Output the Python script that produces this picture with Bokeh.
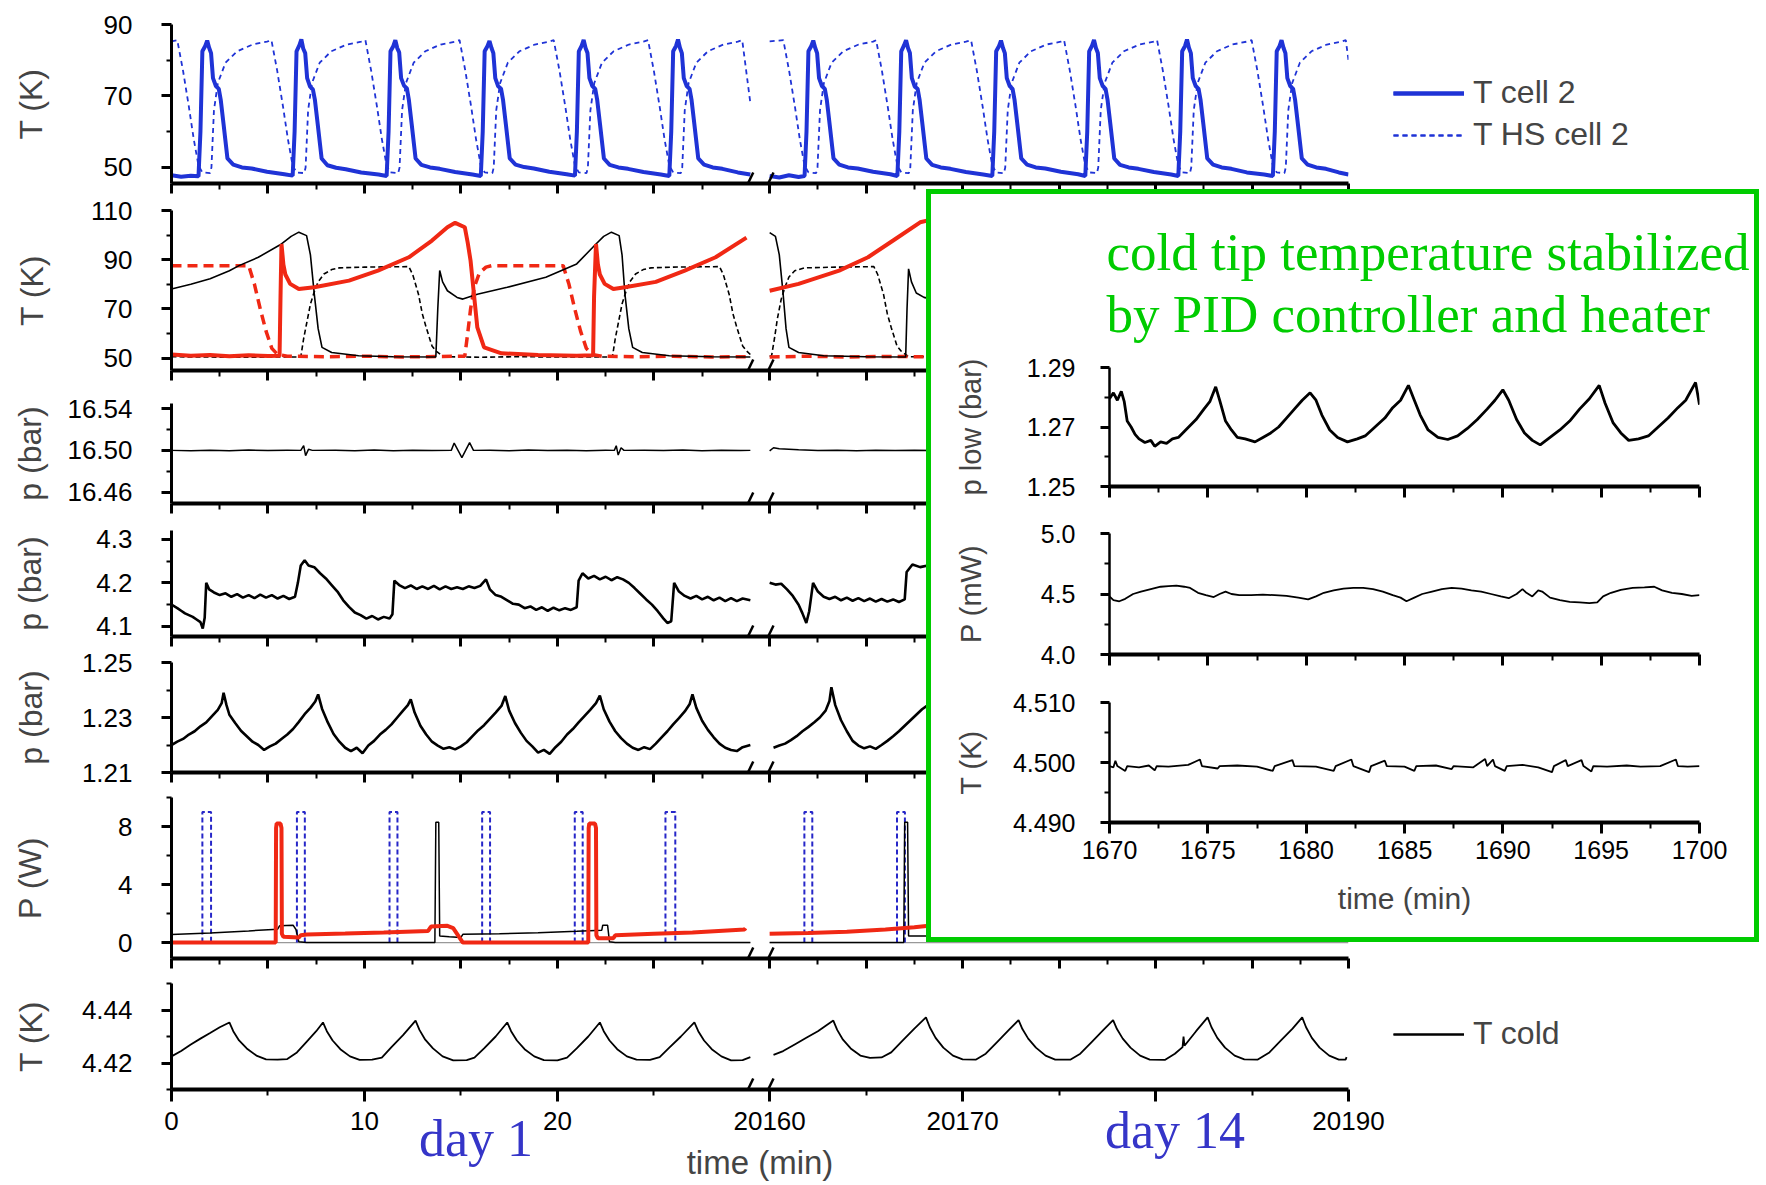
import numpy as np
from bokeh.plotting import figure
from bokeh.layouts import column
from bokeh.models import (Range1d, FixedTicker, PrintfTickFormatter, Legend,
                          LegendItem, Arrow, GridBox, Column, Div)
from bokeh.embed import file_html
from bokeh.resources import INLINE

# ============================ DATA ============================
# broken time axis: 0-30 min (day 1) | 20160-20190 min (day 14)
DAY14_START = 20160.0
DAY14_AXIS_POS = 31.0

# --- panel 1: cell 2 temperatures (K)
t_cell2_day1 = [
 (0.00,47.8),(0.50,47.4),(1.00,47.7),(1.40,47.5),
 (1.50,60.0),(1.60,82.5),(1.75,84.0),(1.85,85.5),(1.95,83.5),(2.05,82.0),(2.15,75.0),(2.30,72.8),(2.45,72.0),(2.55,69.0),(2.70,62.0),(2.90,52.5),(3.20,50.8),(3.65,50.0),(4.15,49.7),(4.95,48.8),(5.85,48.1),(6.28,47.7),
 (6.38,60.0),(6.48,82.5),(6.63,84.2),(6.73,85.8),(6.83,83.2),(6.93,82.0),(7.03,75.0),(7.18,72.6),(7.33,71.8),(7.43,69.0),(7.58,62.0),(7.78,52.5),(8.08,50.6),(8.53,49.9),(9.03,49.5),(9.83,48.6),(10.73,48.0),(11.15,47.6),
 (11.25,60.0),(11.35,82.5),(11.50,84.0),(11.60,85.6),(11.70,83.4),(11.80,82.2),(11.90,75.0),(12.05,72.9),(12.20,72.1),(12.30,69.0),(12.45,62.0),(12.65,52.5),(12.95,50.7),(13.40,50.0),(13.90,49.6),(14.70,48.7),(15.60,48.0),(16.03,47.6),
 (16.13,60.0),(16.23,82.5),(16.38,84.0),(16.48,85.4),(16.58,83.5),(16.68,82.0),(16.78,75.0),(16.93,72.7),(17.08,72.0),(17.18,69.0),(17.33,62.0),(17.53,52.5),(17.83,50.8),(18.28,50.1),(18.78,49.7),(19.58,48.8),(20.48,48.1),(20.91,47.7),
 (21.01,60.0),(21.11,82.5),(21.26,84.1),(21.36,85.7),(21.46,83.4),(21.56,82.0),(21.66,75.0),(21.81,72.8),(21.96,72.0),(22.06,69.0),(22.21,62.0),(22.41,52.5),(22.71,50.7),(23.16,50.0),(23.66,49.6),(24.46,48.7),(25.36,48.0),(25.80,47.6),
 (25.90,60.0),(26.00,82.5),(26.15,84.0),(26.25,85.8),(26.35,83.5),(26.45,82.0),(26.55,75.0),(26.70,72.8),(26.85,72.0),(26.95,69.0),(27.10,62.0),(27.30,52.5),(27.60,50.8),(28.05,50.0),(28.55,49.6),(29.35,48.6),(30.00,48.0)]
t_cell2_day14 = [
 (20160.00,47.6),(20160.50,47.2),(20161.00,47.8),(20161.50,47.3),(20161.81,47.6),
 (20161.91,60.0),(20162.01,82.5),(20162.16,84.0),(20162.26,85.5),(20162.36,83.5),(20162.46,82.0),(20162.56,75.0),(20162.71,72.8),(20162.86,72.0),(20162.96,69.0),(20163.11,62.0),(20163.31,52.5),(20163.61,50.8),(20164.06,50.0),(20164.56,49.7),(20165.36,48.8),(20166.26,48.1),(20166.62,47.6),
 (20166.72,60.0),(20166.82,82.5),(20166.97,84.2),(20167.07,85.6),(20167.17,83.4),(20167.27,82.0),(20167.37,75.0),(20167.52,72.6),(20167.67,72.0),(20167.77,69.0),(20167.92,62.0),(20168.12,52.5),(20168.42,50.7),(20168.87,50.0),(20169.37,49.6),(20170.17,48.7),(20171.07,48.0),(20171.54,47.6),
 (20171.64,60.0),(20171.74,82.5),(20171.89,84.0),(20171.99,85.5),(20172.09,83.5),(20172.19,82.0),(20172.29,75.0),(20172.44,72.8),(20172.59,72.0),(20172.69,69.0),(20172.84,62.0),(20173.04,52.5),(20173.34,50.8),(20173.79,50.0),(20174.29,49.7),(20175.09,48.8),(20175.99,48.1),(20176.36,47.6),
 (20176.46,60.0),(20176.56,82.5),(20176.71,84.1),(20176.81,85.7),(20176.91,83.4),(20177.01,82.0),(20177.11,75.0),(20177.26,72.8),(20177.41,72.0),(20177.51,69.0),(20177.66,62.0),(20177.86,52.5),(20178.16,50.7),(20178.61,50.0),(20179.11,49.6),(20179.91,48.7),(20180.81,48.0),(20181.18,47.6),
 (20181.28,60.0),(20181.38,82.5),(20181.53,84.0),(20181.63,85.8),(20181.73,83.5),(20181.83,82.0),(20181.93,75.0),(20182.08,72.8),(20182.23,72.0),(20182.33,69.0),(20182.48,62.0),(20182.68,52.5),(20182.98,50.8),(20183.43,50.0),(20183.93,49.6),(20184.73,48.6),(20185.63,48.0),(20186.08,47.6),
 (20186.18,60.0),(20186.28,82.5),(20186.43,84.0),(20186.53,85.6),(20186.63,83.5),(20186.73,82.0),(20186.83,75.0),(20186.98,72.8),(20187.13,72.0),(20187.23,69.0),(20187.38,62.0),(20187.58,52.5),(20187.88,50.8),(20188.33,50.0),(20188.83,49.6),(20189.50,48.6),(20190.00,48.0)]
t_hs_cell2_day1 = [
 (0.00,85.3),(0.30,85.6),(0.60,77.0),(0.90,67.0),(1.15,58.0),(1.40,50.5),(1.60,48.6),(2.00,48.4),(2.07,50.0),(2.20,66.0),(2.40,73.6),(2.80,79.3),(3.40,82.5),(4.20,84.4),(4.95,85.2),(5.18,85.6),
 (5.48,77.0),(5.78,67.0),(6.03,58.0),(6.28,50.5),(6.48,48.6),(6.88,48.4),(6.95,50.0),(7.08,66.0),(7.28,73.6),(7.68,79.3),(8.28,82.5),(9.08,84.4),(9.83,85.2),(10.05,85.6),
 (10.35,77.0),(10.65,67.0),(10.90,58.0),(11.15,50.5),(11.35,48.6),(11.75,48.4),(11.82,50.0),(11.95,66.0),(12.15,73.6),(12.55,79.3),(13.15,82.5),(13.95,84.4),(14.70,85.2),(14.93,85.6),
 (15.23,77.0),(15.53,67.0),(15.78,58.0),(16.03,50.5),(16.23,48.6),(16.63,48.4),(16.70,50.0),(16.83,66.0),(17.03,73.6),(17.43,79.3),(18.03,82.5),(18.83,84.4),(19.58,85.2),(19.81,85.6),
 (20.11,77.0),(20.41,67.0),(20.66,58.0),(20.91,50.5),(21.11,48.6),(21.51,48.4),(21.58,50.0),(21.71,66.0),(21.91,73.6),(22.31,79.3),(22.91,82.5),(23.71,84.4),(24.46,85.2),(24.70,85.6),
 (25.00,77.0),(25.30,67.0),(25.55,58.0),(25.80,50.5),(26.00,48.6),(26.40,48.4),(26.47,50.0),(26.60,66.0),(26.80,73.6),(27.20,79.3),(27.80,82.5),(28.60,84.4),(29.35,85.2),(29.58,85.6),(30.00,68.0)]
t_hs_cell2_day14 = [
 (20160.00,85.3),(20160.71,85.6),
 (20161.01,77.0),(20161.31,67.0),(20161.56,58.0),(20161.81,50.5),(20162.01,48.6),(20162.41,48.4),(20162.48,50.0),(20162.61,66.0),(20162.81,73.6),(20163.21,79.3),(20163.81,82.5),(20164.61,84.4),(20165.36,85.2),(20165.52,85.6),
 (20165.82,77.0),(20166.12,67.0),(20166.37,58.0),(20166.62,50.5),(20166.82,48.6),(20167.22,48.4),(20167.29,50.0),(20167.42,66.0),(20167.62,73.6),(20168.02,79.3),(20168.62,82.5),(20169.42,84.4),(20170.17,85.2),(20170.44,85.6),
 (20170.74,77.0),(20171.04,67.0),(20171.29,58.0),(20171.54,50.5),(20171.74,48.6),(20172.14,48.4),(20172.21,50.0),(20172.34,66.0),(20172.54,73.6),(20172.94,79.3),(20173.54,82.5),(20174.34,84.4),(20175.09,85.2),(20175.26,85.6),
 (20175.56,77.0),(20175.86,67.0),(20176.11,58.0),(20176.36,50.5),(20176.56,48.6),(20176.96,48.4),(20177.03,50.0),(20177.16,66.0),(20177.36,73.6),(20177.76,79.3),(20178.36,82.5),(20179.16,84.4),(20179.91,85.2),(20180.08,85.6),
 (20180.38,77.0),(20180.68,67.0),(20180.93,58.0),(20181.18,50.5),(20181.38,48.6),(20181.78,48.4),(20181.85,50.0),(20181.98,66.0),(20182.18,73.6),(20182.58,79.3),(20183.18,82.5),(20183.98,84.4),(20184.73,85.2),(20184.98,85.6),
 (20185.28,77.0),(20185.58,67.0),(20185.83,58.0),(20186.08,50.5),(20186.28,48.6),(20186.68,48.4),(20186.75,50.0),(20186.88,66.0),(20187.08,73.6),(20187.48,79.3),(20188.08,82.5),(20188.88,84.4),(20189.63,85.2),(20189.86,85.6),(20190.00,80.0)]

# --- panel 2: cell 1 / cell 3 and heat switch temperatures (K)
t_cell1_day1 = [(0.0,78.1),(1.0,80.0),(2.0,82.3),(3.0,85.5),(3.5,87.6),(4.5,91.0),(5.7,96.4),(6.2,99.5),(6.6,101.2),(7.0,99.8),(7.2,92.0),(7.4,76.0),(7.6,62.0),(7.8,54.4),(8.3,52.3),(9.7,51.0),(11.5,50.6),(13.7,50.5),(13.8,70.0),(13.9,85.6),(14.05,81.0),(14.3,77.4),(14.8,74.7),(15.1,74.0),(15.85,76.0),(17.4,78.8),(19.4,82.9),(21.0,88.3),(22.0,96.4),(22.4,99.5),(22.8,101.2),(23.2,99.8),(23.35,92.0),(23.5,76.0),(23.7,62.0),(23.9,54.4),(24.4,52.3),(25.8,51.0),(28.0,50.6),(30.0,50.5)]
t_cell1_day14 = [(20160.0,101.0),(20160.3,99.5),(20160.5,92.0),(20160.7,76.0),(20160.85,62.0),(20161.0,54.4),(20161.5,52.3),(20162.8,51.0),(20165.0,50.6),(20167.05,50.5),(20167.12,70.0),(20167.2,86.3),(20167.35,81.0),(20167.6,76.5),(20168.0,74.7),(20168.4,74.0),(20169.2,76.0)]
t_cell3_day1 = [(0.0,51.5),(1.0,51.0),(2.0,51.3),(3.0,50.8),(4.0,51.2),(5.0,50.9),(5.6,51.0),(5.65,75.0),(5.7,96.4),(5.8,88.0),(5.9,84.0),(6.15,80.2),(6.6,78.1),(7.4,78.8),(9.2,81.5),(10.7,85.6),(12.3,91.0),(13.5,97.8),(14.3,103.2),(14.7,105.0),(15.2,103.2),(15.35,97.0),(15.5,89.6),(15.7,74.0),(15.85,62.5),(16.2,54.4),(17.1,52.0),(19.0,51.3),(21.0,51.0),(21.85,51.2),(21.9,75.0),(22.0,96.4),(22.1,88.0),(22.2,84.0),(22.45,80.2),(22.9,78.1),(23.5,78.8),(25.1,81.0),(26.6,85.6),(28.2,91.0),(29.8,99.0)]
t_cell3_day14 = [(20160.0,77.4),(20161.5,80.2),(20163.6,85.6),(20165.1,91.0),(20166.4,97.8),(20167.8,105.2),(20168.5,106.5)]
t_hs_cell3_day1 = [(0.0,87.6),(4.0,87.6),(4.3,80.0),(4.6,70.0),(4.9,61.0),(5.2,54.0),(5.5,51.5),(6.0,50.8),(8.0,50.6),(10.0,50.8),(12.0,50.5),(14.0,50.7),(15.2,50.8),(15.35,60.0),(15.5,70.0),(15.7,79.0),(15.95,84.5),(16.3,87.0),(16.6,87.6),(20.3,87.6),(20.6,80.0),(20.9,70.0),(21.2,61.0),(21.5,54.0),(21.8,51.5),(22.3,50.8),(24.0,50.6),(26.0,50.8),(28.0,50.5),(30.0,50.6)]
t_hs_cell3_day14 = [(20160.0,50.5),(20162.0,50.8),(20164.0,50.5),(20166.0,50.7),(20168.0,50.6),(20169.0,50.6)]
t_hs_cell1_day1 = [(0.0,50.6),(3.0,50.4),(6.7,50.5),(6.85,58.0),(7.0,64.0),(7.2,72.0),(7.4,77.0),(7.6,81.0),(7.9,84.2),(8.3,86.0),(8.7,86.7),(10.0,87.0),(12.3,87.2),(12.5,84.0),(12.8,76.0),(13.0,68.0),(13.2,62.5),(13.5,55.0),(13.7,53.0),(14.1,50.6),(16.0,50.4),(18.0,50.6),(20.0,50.5),(22.85,50.5),(23.0,58.0),(23.15,64.0),(23.35,72.0),(23.55,77.0),(23.75,81.0),(24.05,84.2),(24.45,86.0),(24.85,86.7),(26.0,87.0),(28.4,87.2),(28.6,84.0),(28.9,76.0),(29.1,68.0),(29.3,62.5),(29.6,55.0),(29.8,53.0),(30.0,51.5)]
t_hs_cell1_day14 = [(20160.0,50.8),(20160.1,51.0),(20160.25,58.0),(20160.4,66.0),(20160.6,74.0),(20160.8,79.0),(20161.0,83.0),(20161.3,85.5),(20161.8,86.7),(20163.5,87.0),(20165.4,87.2),(20165.6,84.0),(20165.9,76.0),(20166.1,68.0),(20166.3,62.5),(20166.6,55.0),(20166.8,53.0),(20167.2,50.6),(20169.0,50.5)]

# --- panel 3: high pressure (bar)
p_high_day1 = [(0.0,16.5000),(1.0,16.4997),(2.0,16.5002),(3.0,16.4996),(4.0,16.5003),(5.0,16.4998),(6.0,16.5002),(6.7,16.5000),(6.85,16.5045),(6.95,16.4950),(7.1,16.5010),(7.3,16.5000),(8.5,16.5002),(9.5,16.4997),(10.5,16.5003),(11.5,16.4996),(12.5,16.5002),(13.5,16.4998),(14.5,16.5000),(14.65,16.5070),(15.05,16.4930),(15.45,16.5075),(15.65,16.5000),(16.5,16.5002),(17.5,16.4997),(18.5,16.5003),(19.5,16.4998),(20.5,16.5002),(21.5,16.4997),(22.5,16.5002),(22.95,16.5000),(23.05,16.5045),(23.15,16.4955),(23.3,16.5025),(23.45,16.5000),(24.5,16.5002),(25.5,16.4998),(26.5,16.5003),(27.5,16.4997),(28.5,16.5002),(29.5,16.4998),(30.0,16.5000)]
p_high_day14 = [(20160.0,16.4995),(20160.2,16.5025),(20160.5,16.5015),(20161.5,16.5005),(20162.5,16.4998),(20163.5,16.5002),(20164.5,16.4997),(20165.5,16.5002),(20166.5,16.4998),(20167.5,16.5002),(20168.5,16.4998),(20169.0,16.5000)]

# --- panel 4: intermediate pressure (bar)
p_mid_day1 = [(0.0,4.150),(0.3,4.142),(0.5,4.136),(0.7,4.130),(0.9,4.126),(1.1,4.122),(1.3,4.116),(1.5,4.110),(1.62,4.095),(1.72,4.120),(1.80,4.200),(1.95,4.185),(2.2,4.178),(2.5,4.172),(2.8,4.176),(3.1,4.168),(3.4,4.174),(3.7,4.166),(4.0,4.172),(4.3,4.165),(4.6,4.173),(4.9,4.166),(5.2,4.172),(5.5,4.164),(5.8,4.170),(6.1,4.163),(6.4,4.168),(6.55,4.200),(6.7,4.240),(6.9,4.252),(7.1,4.240),(7.4,4.236),(7.7,4.222),(8.0,4.210),(8.3,4.195),(8.6,4.180),(8.9,4.160),(9.2,4.145),(9.5,4.132),(9.8,4.126),(10.1,4.118),(10.4,4.124),(10.7,4.116),(11.0,4.122),(11.3,4.118),(11.45,4.128),(11.55,4.205),(11.8,4.195),(12.1,4.188),(12.4,4.194),(12.7,4.186),(13.0,4.192),(13.3,4.186),(13.6,4.193),(13.9,4.185),(14.2,4.192),(14.5,4.186),(14.8,4.190),(15.1,4.186),(15.4,4.192),(15.7,4.188),(16.0,4.193),(16.3,4.208),(16.5,4.185),(16.8,4.172),(17.1,4.168),(17.4,4.160),(17.7,4.152),(18.0,4.150),(18.3,4.142),(18.6,4.146),(18.9,4.138),(19.2,4.144),(19.5,4.136),(19.8,4.143),(20.1,4.137),(20.4,4.142),(20.7,4.138),(21.0,4.144),(21.1,4.205),(21.3,4.222),(21.6,4.210),(21.9,4.216),(22.2,4.208),(22.5,4.214),(22.8,4.206),(23.1,4.213),(23.4,4.208),(23.7,4.200),(24.0,4.188),(24.3,4.175),(24.6,4.162),(24.9,4.150),(25.2,4.135),(25.5,4.118),(25.7,4.108),(25.9,4.112),(26.05,4.200),(26.3,4.180),(26.6,4.170),(26.9,4.164),(27.2,4.170),(27.5,4.162),(27.8,4.168),(28.1,4.160),(28.4,4.166),(28.7,4.158),(29.0,4.165),(29.3,4.158),(29.6,4.164),(30.0,4.160)]
p_mid_day14 = [(20160.0,4.200),(20160.3,4.196),(20160.6,4.198),(20160.9,4.185),(20161.2,4.170),(20161.5,4.150),(20161.7,4.130),(20161.9,4.108),(20162.05,4.135),(20162.25,4.200),(20162.5,4.180),(20162.8,4.168),(20163.1,4.163),(20163.4,4.168),(20163.7,4.160),(20164.0,4.166),(20164.3,4.159),(20164.6,4.165),(20164.9,4.158),(20165.2,4.164),(20165.5,4.157),(20165.8,4.163),(20166.1,4.157),(20166.4,4.162),(20166.7,4.156),(20167.0,4.162),(20167.1,4.225),(20167.4,4.242),(20167.8,4.236),(20168.2,4.240),(20168.6,4.234)]

# --- panel 5: low pressure (bar)
p_low_day1 = [(0.0,1.2200),(0.3,1.2212),(0.6,1.2222),(0.9,1.2238),(1.2,1.2250),(1.5,1.2268),(1.8,1.2282),(2.1,1.2305),(2.4,1.2328),(2.6,1.2352),(2.7,1.2390),(2.85,1.2345),(3.0,1.2310),(3.3,1.2280),(3.6,1.2252),(3.9,1.2232),(4.2,1.2212),(4.5,1.2200),(4.8,1.2182),(5.1,1.2195),(5.4,1.2205),(5.7,1.2222),(6.0,1.2238),(6.3,1.2258),(6.6,1.2284),(6.9,1.2312),(7.2,1.2335),(7.45,1.2358),(7.6,1.2384),(7.8,1.2332),(8.1,1.2282),(8.4,1.2240),(8.7,1.2212),(9.0,1.2190),(9.3,1.2178),(9.6,1.2190),(9.9,1.2170),(10.2,1.2198),(10.5,1.2215),(10.8,1.2238),(11.1,1.2255),(11.4,1.2275),(11.7,1.2300),(12.0,1.2325),(12.25,1.2345),(12.4,1.2366),(12.6,1.2318),(12.9,1.2270),(13.2,1.2238),(13.5,1.2212),(13.8,1.2198),(14.1,1.2186),(14.4,1.2192),(14.7,1.2184),(15.0,1.2195),(15.3,1.2210),(15.6,1.2232),(15.9,1.2254),(16.2,1.2272),(16.5,1.2295),(16.8,1.2318),(17.1,1.2342),(17.3,1.2378),(17.5,1.2325),(17.8,1.2280),(18.1,1.2245),(18.4,1.2215),(18.7,1.2195),(19.0,1.2172),(19.3,1.2182),(19.6,1.2168),(19.9,1.2192),(20.2,1.2212),(20.5,1.2238),(20.8,1.2258),(21.1,1.2282),(21.4,1.2305),(21.7,1.2328),(22.0,1.2352),(22.2,1.2380),(22.4,1.2330),(22.7,1.2285),(23.0,1.2250),(23.3,1.2225),(23.6,1.2205),(23.9,1.2190),(24.2,1.2182),(24.5,1.2192),(24.8,1.2185),(25.1,1.2205),(25.4,1.2228),(25.7,1.2250),(26.0,1.2275),(26.3,1.2298),(26.6,1.2322),(26.85,1.2348),(27.0,1.2384),(27.2,1.2335),(27.5,1.2288),(27.8,1.2255),(28.1,1.2228),(28.4,1.2205),(28.7,1.2190),(29.0,1.2182),(29.3,1.2178),(29.6,1.2192),(30.0,1.2200)]
p_low_day14 = [(20160.2,1.2190),(20160.5,1.2198),(20160.8,1.2205),(20161.1,1.2218),(20161.4,1.2232),(20161.7,1.2250),(20162.0,1.2265),(20162.3,1.2282),(20162.6,1.2300),(20162.9,1.2325),(20163.1,1.2360),(20163.2,1.2410),(20163.4,1.2345),(20163.7,1.2290),(20164.0,1.2250),(20164.3,1.2215),(20164.6,1.2198),(20164.9,1.2188),(20165.2,1.2195),(20165.5,1.2186),(20165.8,1.2200),(20166.1,1.2215),(20166.4,1.2232),(20166.7,1.2250),(20167.0,1.2270),(20167.3,1.2290),(20167.6,1.2310),(20167.9,1.2330),(20168.2,1.2345),(20168.6,1.2365),(20169.0,1.2380)]

# --- panel 6: heater powers (W)
heater_c2_on = [1.60, 6.50, 11.30, 16.10, 20.90, 25.60, 20161.80, 20166.60]
heater_c2_off = [2.05, 6.91, 11.71, 16.51, 21.31, 26.11, 20162.21, 20167.01]
heater_c2_power = 9.0
p_red_day1 = [(0.0,0.0),(5.40,0.0),(5.42,7.9),(5.45,8.2),(5.65,8.2),(5.70,7.9),(5.72,0.6),(5.80,0.4),(6.60,0.35),(6.70,0.50),(7.0,0.55),(9.0,0.62),(11.0,0.70),(13.3,0.80),(13.45,1.10),(14.3,1.15),(14.6,1.0),(15.1,0.0),(21.60,0.0),(21.62,7.9),(21.65,8.2),(21.95,8.2),(22.00,7.9),(22.02,0.5),(22.10,0.3),(22.9,0.3),(23.0,0.5),(25.0,0.6),(27.0,0.7),(29.7,0.9),(29.75,1.0)]
p_red_day14 = [(20160.0,0.6),(20162.0,0.65),(20164.0,0.75),(20166.0,0.9),(20167.5,1.05),(20168.5,1.2)]
p_black_day1 = [(0.0,0.55),(2.0,0.65),(4.0,0.8),(5.5,0.92),(5.6,1.15),(6.3,1.2),(6.45,0.9),(6.6,0.05),(7.0,0.0),(13.65,0.0),(13.7,8.3),(13.85,8.3),(13.9,0.45),(14.4,0.4),(15.0,0.35),(15.1,0.57),(17.0,0.6),(19.0,0.68),(21.0,0.78),(22.3,0.85),(22.35,1.2),(22.6,1.2),(22.7,0.05),(23.0,0.0),(30.0,0.0)]
p_black_day14 = [(20160.0,0.0),(20166.95,0.0),(20167.0,8.3),(20167.15,8.3),(20167.2,0.45),(20168.5,0.45)]
p_zero_day1 = [(0.0,0.0),(30.0,0.0)]
p_zero_day14 = [(20160.0,0.0),(20190.0,0.0)]

# --- panel 7: cold tip temperature (K)
t_cold_day1 = [(0.0,4.4225),(0.5,4.4245),(1.0,4.4270),(1.5,4.4292),(2.0,4.4313),(2.5,4.4335),(3.0,4.4353),(3.2,4.4320),(3.5,4.4285),(3.9,4.4255),(4.4,4.4228),(4.9,4.4214),(5.5,4.4213),(6.0,4.4215),(6.5,4.4240),(7.0,4.4280),(7.5,4.4320),(7.85,4.4353),(8.05,4.4320),(8.35,4.4285),(8.75,4.4252),(9.25,4.4225),(9.75,4.4212),(10.4,4.4213),(10.9,4.4220),(11.4,4.4260),(12.0,4.4305),(12.65,4.4360),(12.85,4.4325),(13.15,4.4288),(13.55,4.4255),(14.05,4.4225),(14.6,4.4210),(15.3,4.4211),(15.7,4.4220),(16.2,4.4255),(16.8,4.4300),(17.4,4.4353),(17.6,4.4320),(17.9,4.4285),(18.3,4.4252),(18.8,4.4225),(19.3,4.4211),(20.0,4.4210),(20.5,4.4220),(21.0,4.4255),(21.6,4.4300),(22.2,4.4353),(22.4,4.4320),(22.7,4.4285),(23.1,4.4252),(23.6,4.4225),(24.1,4.4213),(24.8,4.4212),(25.3,4.4222),(25.8,4.4258),(26.4,4.4300),(27.1,4.4353),(27.3,4.4320),(27.6,4.4285),(28.0,4.4252),(28.5,4.4225),(29.0,4.4210),(29.6,4.4211),(30.0,4.4222)]
t_cold_day14 = [(20160.2,4.4231),(20160.7,4.4245),(20161.3,4.4270),(20161.9,4.4295),(20162.5,4.4320),(20163.0,4.4345),(20163.3,4.4360),(20163.5,4.4325),(20163.8,4.4288),(20164.2,4.4255),(20164.7,4.4228),(20165.2,4.4219),(20165.8,4.4221),(20166.3,4.4240),(20166.9,4.4285),(20167.5,4.4330),(20168.1,4.4372),(20168.3,4.4335),(20168.6,4.4295),(20169.0,4.4258),(20169.5,4.4228),(20170.0,4.4214),(20170.7,4.4213),(20171.2,4.4235),(20171.8,4.4280),(20172.4,4.4325),(20172.9,4.4362),(20173.1,4.4328),(20173.4,4.4292),(20173.8,4.4258),(20174.3,4.4228),(20174.8,4.4213),(20175.6,4.4213),(20176.1,4.4235),(20176.7,4.4280),(20177.3,4.4325),(20177.8,4.4362),(20178.0,4.4328),(20178.3,4.4292),(20178.7,4.4258),(20179.2,4.4228),(20179.7,4.4213),(20180.5,4.4212),(20181.0,4.4235),(20181.4,4.4260),(20181.45,4.4300),(20181.5,4.4265),(20182.1,4.4320),(20182.7,4.4372),(20182.9,4.4335),(20183.2,4.4295),(20183.6,4.4258),(20184.1,4.4228),(20184.6,4.4214),(20185.3,4.4213),(20185.9,4.4240),(20186.5,4.4285),(20187.1,4.4330),(20187.6,4.4372),(20187.8,4.4335),(20188.1,4.4295),(20188.5,4.4258),(20189.0,4.4228),(20189.5,4.4213),(20189.85,4.4213),(20189.9,4.4222)]

# --- inset (PID stabilised cold tip), time 1670-1700 min
inset_p_low = [(1670.0,1.2795),(1670.2,1.2815),(1670.4,1.2790),(1670.6,1.2820),(1670.75,1.2785),(1670.9,1.2720),(1671.1,1.2700),(1671.3,1.2675),(1671.5,1.2660),(1671.8,1.2648),(1672.1,1.2655),(1672.3,1.2635),(1672.6,1.2650),(1672.9,1.2645),(1673.2,1.2660),(1673.5,1.2665),(1673.8,1.2685),(1674.1,1.2705),(1674.4,1.2725),(1674.8,1.2760),(1675.1,1.2785),(1675.4,1.2835),(1675.6,1.2790),(1675.9,1.2720),(1676.2,1.2690),(1676.5,1.2665),(1676.9,1.2660),(1677.4,1.2650),(1677.8,1.2665),(1678.2,1.2680),(1678.6,1.2700),(1679.0,1.2730),(1679.4,1.2760),(1679.8,1.2790),(1680.2,1.2815),(1680.5,1.2790),(1680.8,1.2740),(1681.2,1.2690),(1681.6,1.2665),(1682.1,1.2650),(1682.6,1.2660),(1683.0,1.2670),(1683.5,1.2700),(1684.0,1.2730),(1684.4,1.2765),(1684.8,1.2790),(1685.2,1.2840),(1685.5,1.2790),(1685.8,1.2740),(1686.2,1.2690),(1686.7,1.2665),(1687.2,1.2658),(1687.7,1.2670),(1688.2,1.2695),(1688.7,1.2725),(1689.2,1.2760),(1689.6,1.2790),(1690.0,1.2825),(1690.3,1.2790),(1690.7,1.2725),(1691.1,1.2680),(1691.5,1.2655),(1691.9,1.2640),(1692.4,1.2665),(1692.9,1.2690),(1693.4,1.2720),(1693.9,1.2760),(1694.4,1.2795),(1694.9,1.2840),(1695.2,1.2780),(1695.6,1.2715),(1696.0,1.2680),(1696.4,1.2655),(1696.9,1.2660),(1697.4,1.2670),(1697.9,1.2700),(1698.4,1.2730),(1698.9,1.2765),(1699.3,1.2790),(1699.8,1.2850),(1700.0,1.2775)]
inset_p_heater = [(1670.0,4.48),(1670.2,4.45),(1670.5,4.44),(1670.8,4.46),(1671.2,4.50),(1671.6,4.52),(1672.1,4.54),(1672.6,4.56),(1673.0,4.565),(1673.4,4.57),(1673.8,4.56),(1674.1,4.55),(1674.5,4.51),(1674.9,4.49),(1675.3,4.475),(1675.6,4.50),(1675.9,4.52),(1676.2,4.50),(1676.6,4.49),(1677.2,4.49),(1677.8,4.495),(1678.4,4.49),(1679.0,4.485),(1679.6,4.47),(1680.1,4.455),(1680.5,4.48),(1680.9,4.51),(1681.4,4.53),(1681.9,4.545),(1682.4,4.55),(1682.9,4.55),(1683.4,4.54),(1683.9,4.52),(1684.4,4.49),(1684.8,4.47),(1685.1,4.44),(1685.5,4.47),(1685.9,4.50),(1686.4,4.52),(1686.9,4.54),(1687.4,4.55),(1687.9,4.545),(1688.4,4.53),(1688.9,4.52),(1689.4,4.50),(1689.9,4.48),(1690.3,4.465),(1690.7,4.50),(1691.0,4.54),(1691.2,4.51),(1691.5,4.48),(1691.8,4.53),(1692.0,4.52),(1692.4,4.47),(1692.9,4.45),(1693.4,4.435),(1693.9,4.43),(1694.4,4.425),(1694.8,4.43),(1695.1,4.48),(1695.5,4.51),(1696.0,4.535),(1696.6,4.55),(1697.2,4.555),(1697.7,4.56),(1698.1,4.53),(1698.6,4.51),(1699.1,4.50),(1699.6,4.485),(1700.0,4.49)]
inset_t_cold = [(1670.0,4.4994),(1670.2,4.4992),(1670.3,4.5003),(1670.4,4.4994),(1670.8,4.4986),(1670.9,4.4994),(1671.5,4.4992),(1672.0,4.4995),(1672.3,4.4987),(1672.4,4.4994),(1673.0,4.4993),(1674.0,4.4996),(1674.6,4.5005),(1674.7,4.4994),(1675.5,4.4990),(1675.6,4.4994),(1676.5,4.4995),(1677.5,4.4993),(1678.3,4.4986),(1678.4,4.4994),(1679.3,4.5004),(1679.4,4.4994),(1680.5,4.4993),(1681.4,4.4986),(1681.5,4.4994),(1682.3,4.5005),(1682.4,4.4994),(1683.2,4.4984),(1683.3,4.4994),(1684.0,4.5003),(1684.1,4.4994),(1685.0,4.4993),(1685.5,4.4986),(1685.6,4.4994),(1686.6,4.4995),(1687.4,4.4989),(1687.5,4.4994),(1688.5,4.4992),(1689.1,4.5006),(1689.2,4.4994),(1689.5,4.5005),(1689.6,4.4994),(1690.1,4.4986),(1690.2,4.4994),(1691.0,4.4996),(1691.8,4.4992),(1692.5,4.4984),(1692.6,4.4994),(1693.2,4.5004),(1693.3,4.4994),(1694.0,4.5004),(1694.1,4.4994),(1694.5,4.4985),(1694.6,4.4994),(1695.3,4.4993),(1696.3,4.4995),(1697.0,4.4993),(1698.0,4.4994),(1698.8,4.5005),(1698.9,4.4994),(1699.4,4.4993),(1700.0,4.4994)]

# tick definitions
x_major_day1 = [0, 5, 10, 15, 20, 25]
x_major_day14 = [20160, 20165, 20170, 20175, 20180, 20185, 20190]
x_minor_day1 = [2.5, 7.5, 12.5, 17.5, 22.5, 27.5]
x_minor_day14 = [20162.5, 20167.5, 20172.5, 20177.5, 20182.5, 20187.5]
x_bottom_major = [0, 10, 20, 20160, 20170, 20180, 20190]
x_bottom_minor = [5, 15, 25, 20165, 20175, 20185]
x_bottom_labels = ["0", "10", "20", "20160", "20170", "", "20190"]

# ============================ LAYOUT ============================
FRAME_LEFT = 171
FRAME_W = 1177
X_END = 61.0
FONT = "Liberation Sans"
BLUE = "#1f33d6"
RED = "#f02814"
GREEN = "#00cc00"
CHAR_W = {".": 0.278, "-": 0.333}


def label_width(text, size):
    return size * sum(CHAR_W.get(c, 0.556) for c in text)


def ax(t):
    t = np.asarray(t, dtype=float)
    return np.where(t >= DAY14_START - 1, t - DAY14_START + DAY14_AXIS_POS, t)


def xy(pairs):
    a = np.array(pairs, dtype=float)
    return ax(a[:, 0]), a[:, 1]


def style_axis(a, line_w, major_out, minor_out, font_size):
    a.axis_line_width = line_w
    a.axis_line_color = "black"
    a.major_tick_line_width = 3
    a.minor_tick_line_width = 2
    a.major_tick_in = 0
    a.minor_tick_in = 0
    a.major_tick_out = major_out
    a.minor_tick_out = minor_out
    a.major_label_text_font = FONT
    a.major_label_text_font_size = font_size
    a.major_label_text_color = "black"


panels = [
    dict(bt=24, fh=159, bb=12, y0=45.5, y1=90.0, major=[50, 70, 90], minor=[60, 80], fmt="%d", label="T (K)"),
    dict(bt=15, fh=160, bb=20, y0=45.0, y1=110.0, major=[50, 70, 90, 110], minor=[60, 80, 100], fmt="%d", label="T (K)"),
    dict(bt=13, fh=100, bb=14, y0=16.449, y1=16.545, major=[16.46, 16.50, 16.54], minor=[16.48, 16.52], fmt="%.2f", label="p (bar)"),
    dict(bt=13, fh=106, bb=11, y0=4.077, y1=4.32, major=[4.1, 4.2, 4.3], minor=[4.15, 4.25], fmt="%.1f", label="p (bar)"),
    dict(bt=15, fh=110, bb=15, y0=1.21, y1=1.25, major=[1.21, 1.23, 1.25], minor=[1.22, 1.24], fmt="%.2f", label="p (bar)"),
    dict(bt=10, fh=161, bb=12, y0=-1.1, y1=10.0, major=[0, 4, 8], minor=[2, 6, 10], fmt="%d", label="P (W)"),
    dict(bt=13, fh=106, bb=88, y0=4.41, y1=4.45, major=[4.42, 4.44], minor=[4.41, 4.43, 4.45], fmt="%.2f", label="T (K)"),
]

figs = []
for i, s in enumerate(panels):
    p = figure(frame_width=FRAME_W, frame_height=s["fh"], min_border_left=FRAME_LEFT,
               min_border_right=330, min_border_top=s["bt"], min_border_bottom=s["bb"],
               x_range=Range1d(0, X_END), y_range=Range1d(s["y0"], s["y1"]),
               output_backend="svg", toolbar_location=None, tools="")
    p.grid.visible = False
    p.outline_line_color = None
    p.background_fill_color = None
    p.border_fill_color = None
    ppu = s["fh"] / (s["y1"] - s["y0"])

    last = i == len(panels) - 1
    xa = p.xaxis[0]
    style_axis(xa, 4, 10, 6, "26px")
    if last:
        xa.major_tick_out = 12
        xa.ticker = FixedTicker(ticks=list(ax(x_bottom_major)), minor_ticks=list(ax(x_bottom_minor)))
        xa.major_label_overrides = {float(v): lab for v, lab in zip(ax(x_bottom_major), x_bottom_labels)}
        xa.major_label_standoff = 10
        xa.axis_label = "time (min)"
        xa.axis_label_text_font = FONT
        xa.axis_label_text_font_style = "normal"
        xa.axis_label_text_font_size = "33px"
        xa.axis_label_standoff = 11
    else:
        xa.ticker = FixedTicker(ticks=list(ax(x_major_day1 + x_major_day14)),
                                minor_ticks=list(ax(x_minor_day1 + x_minor_day14)))
        xa.major_label_text_font_size = "0px"
        xa.major_label_text_color = None
        xa.major_label_standoff = 0

    ya = p.yaxis[0]
    style_axis(ya, 3, 10, 5, "26px")
    ya.ticker = FixedTicker(ticks=s["major"], minor_ticks=s["minor"])
    ya.formatter = PrintfTickFormatter(format=s["fmt"])
    ya.major_label_standoff = 29
    w = max(label_width(s["fmt"] % v, 26) for v in s["major"])
    ya.axis_label = s["label"]
    ya.axis_label_text_font = FONT
    ya.axis_label_text_font_style = "normal"
    ya.axis_label_text_font_size = "32px"
    ya.axis_label_standoff = int(round(81 - w))

    # axis break marks
    for c in (29.85, 30.9):
        p.add_layout(Arrow(end=None, x_start=c - 0.3, y_start=s["y0"] - 13 / ppu,
                           x_end=c + 0.3, y_end=s["y0"] + 11 / ppu,
                           line_width=2.5, line_color="black"))
    figs.append(p)

p1, p2, p3, p4, p5, p6, p7 = figs

# ---- panel 1
r_c2 = [p1.line(*xy(d), line_color=BLUE, line_width=4) for d in (t_cell2_day1, t_cell2_day14)]
r_hs2 = [p1.line(*xy(d), line_color=BLUE, line_width=1.8, line_dash="5 4") for d in (t_hs_cell2_day1, t_hs_cell2_day14)]
leg1 = Legend(items=[LegendItem(label="T cell 2", renderers=r_c2), LegendItem(label="T HS cell 2", renderers=r_hs2)],
              location=(45, 30), label_text_font=FONT, label_text_font_size="32px",
              glyph_width=71, glyph_height=36, label_height=36, label_standoff=9, spacing=5,
              padding=0, margin=0, border_line_color=None, background_fill_alpha=0)
p1.add_layout(leg1, "right")

# ---- panel 2
for d in (t_hs_cell1_day1, t_hs_cell1_day14):
    p2.line(*xy(d), line_color="black", line_width=1.6, line_dash="5 3")
for d in (t_hs_cell3_day1, t_hs_cell3_day14):
    p2.line(*xy(d), line_color=RED, line_width=3.5, line_dash="10 6")
for d in (t_cell1_day1, t_cell1_day14):
    p2.line(*xy(d), line_color="black", line_width=1.6)
for d in (t_cell3_day1, t_cell3_day14):
    p2.line(*xy(d), line_color=RED, line_width=4)

# ---- panels 3-5
for d in (p_high_day1, p_high_day14):
    p3.line(*xy(d), line_color="black", line_width=1.5)
for d in (p_mid_day1, p_mid_day14):
    p4.line(*xy(d), line_color="black", line_width=2.6)
for d in (p_low_day1, p_low_day14):
    p5.line(*xy(d), line_color="black", line_width=2.6)

# ---- panel 6
for d in (p_zero_day1, p_zero_day14):
    p6.line(*xy(d), line_color="#999999", line_width=1.3)
pulse_x = [list(ax([a, a, b, b])) for a, b in zip(heater_c2_on, heater_c2_off)]
pulse_y = [[0, heater_c2_power, heater_c2_power, 0] for _ in heater_c2_on]
p6.multi_line(pulse_x, pulse_y, line_color="#2626c8", line_width=2, line_dash="5 3")
for d in (p_black_day1, p_black_day14):
    p6.line(*xy(d), line_color="black", line_width=1.5)
for d in (p_red_day1, p_red_day14):
    p6.line(*xy(d), line_color=RED, line_width=4)

# ---- panel 7
r_cold = [p7.line(*xy(d), line_color="black", line_width=1.8) for d in (t_cold_day1, t_cold_day14)]
leg7 = Legend(items=[LegendItem(label="T cold", renderers=r_cold)],
              location=(45, 37), label_text_font=FONT, label_text_font_size="32px",
              glyph_width=71, glyph_height=36, label_height=36, label_standoff=9, spacing=5,
              padding=0, margin=0, border_line_color=None, background_fill_alpha=0)
p7.add_layout(leg7, "right")

main_col = column(*figs, spacing=0)

# ============================ INSET ============================
IN_FRAME_W = 590
in_specs = [
    dict(bt=173, fh=119, bb=23, y0=1.25, y1=1.29, major=[1.25, 1.27, 1.29], minor=[1.26, 1.28], fmt="%.2f", label="p low (bar)", data=inset_p_low, lw=2.8),
    dict(bt=24, fh=121, bb=24, y0=4.0, y1=5.0, major=[4.0, 4.5, 5.0], minor=[4.25, 4.75], fmt="%.1f", label="P (mW)", data=inset_p_heater, lw=1.8),
    dict(bt=24, fh=120, bb=115, y0=4.490, y1=4.510, major=[4.490, 4.500, 4.510], minor=[4.495, 4.505], fmt="%.3f", label="T (K)", data=inset_t_cold, lw=1.8),
]
in_figs = []
for i, s in enumerate(in_specs):
    p = figure(frame_width=IN_FRAME_W, frame_height=s["fh"], min_border_left=178,
               min_border_right=55, min_border_top=s["bt"], min_border_bottom=s["bb"],
               x_range=Range1d(1670, 1700), y_range=Range1d(s["y0"], s["y1"]),
               output_backend="svg", toolbar_location=None, tools="")
    p.grid.visible = False
    p.outline_line_color = None
    xa = p.xaxis[0]
    style_axis(xa, 4, 11, 6, "25px")
    xa.ticker = FixedTicker(ticks=[1670, 1675, 1680, 1685, 1690, 1695, 1700],
                            minor_ticks=[1672.5, 1677.5, 1682.5, 1687.5, 1692.5, 1697.5])
    if i == 2:
        xa.major_label_standoff = 7
        xa.axis_label = "time (min)"
        xa.axis_label_text_font = FONT
        xa.axis_label_text_font_style = "normal"
        xa.axis_label_text_font_size = "30px"
        xa.axis_label_standoff = 20
    else:
        xa.major_label_text_font_size = "0px"
        xa.major_label_text_color = None
        xa.major_label_standoff = 0
    ya = p.yaxis[0]
    style_axis(ya, 2.5, 9, 5, "25px")
    ya.ticker = FixedTicker(ticks=s["major"], minor_ticks=s["minor"])
    ya.formatter = PrintfTickFormatter(format=s["fmt"])
    ya.major_label_standoff = 25
    w = max(label_width(s["fmt"] % v, 25) for v in s["major"])
    ya.axis_label = s["label"]
    ya.axis_label_text_font = FONT
    ya.axis_label_text_font_style = "normal"
    ya.axis_label_text_font_size = "29px"
    ya.axis_label_standoff = int(round(86 - w))
    d = np.array(s["data"], dtype=float)
    p.line(d[:, 0], d[:, 1], line_color="black", line_width=s["lw"])
    in_figs.append(p)

pa = in_figs[0]
pa.title.text = "cold tip temperature stabilized\nby PID controller and heater"
pa.title.text_font = "Liberation Serif"
pa.title.text_font_size = "53px"
pa.title.text_font_style = "normal"
pa.title.text_color = GREEN
pa.title.text_line_height = 1.08
pa.title.align = "left"
pa.title.offset = -3
pa.title.standoff = 48

inset_col = Column(children=in_figs, spacing=0,
                   styles={"border": f"5px solid {GREEN}", "background-color": "white"})

DAY_STYLE = "font-family:'Liberation Serif';font-size:52px;line-height:52px;color:#3535c8;white-space:nowrap;"
day1_div = Div(text=f'<div style="{DAY_STYLE}margin-left:0px;margin-top:3px;">day 1</div>', width=160, height=64)
day14_div = Div(text=f'<div style="{DAY_STYLE}margin-left:0px;position:relative;top:-5px;">day 14</div>', width=170, height=64)

grid = GridBox(children=[(main_col, 0, 0, 3, 4), (inset_col, 1, 2, 1, 2),
                         (day1_div, 2, 1), (day14_div, 2, 3)],
               rows=["189px", "916px", "auto"], cols=["414px", "512px", "174px", "auto"])

open("out.html", "w").write(file_html(grid, INLINE))
